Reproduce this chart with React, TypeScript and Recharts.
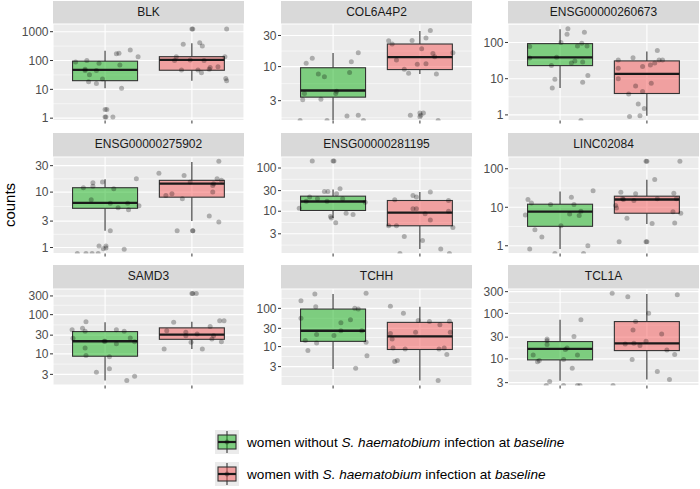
import React from 'react';
import { ComposedChart, XAxis, YAxis, CartesianGrid, Bar, Scatter } from 'recharts';

type Pt = [number, number];
// [lower whisker, q1, median, q3, upper whisker]
type Box = [number, number, number, number, number];

const FONT = '"Liberation Sans", Arial, Helvetica, sans-serif';
const GREEN = 'rgb(15,175,20)';
const RED = 'rgb(245,85,85)';

// ---- data (0 = count of zero, drawn on the panel floor) ----
const blkTicks = [1, 10, 100, 1000];
const blkDomain = [0.83, 1850];
const blkBoxes: Box[] = [[11, 20, 47, 95, 220], [20, 46, 105, 136, 400]];
const blkPoints: Pt[] = [
  [0.66, 89], [0.79, 100], [0.93, 80], [0.77, 50], [0.77, 45], [0.9, 45], [0.82, 32], [0.97, 23],
  [0.81, 18.5], [0.9, 16], [1.13, 173], [1.16, 180], [1.29, 233], [1.38, 136], [1.17, 70], [1.19, 11],
  [1.0, 2], [1.02, 2], [1.0, 1.1], [1.01, 1.1], [1.09, 1.1],
  [2.0, 1240], [2.01, 1240], [2.4, 1240], [1.9, 365], [2.09, 415], [2.12, 318], [1.82, 136], [1.98, 105],
  [2.14, 100], [2.38, 136], [1.8, 100], [1.88, 47], [2.07, 47], [2.11, 38], [2.2, 50], [2.21, 57],
  [2.3, 61], [2.39, 24], [2.4, 20],
];

const colTicks = [3, 10, 30];
const colDomain = [1.49, 45];
const colBoxes: Box[] = [[1.5, 3.4, 4.3, 9.6, 16.2], [7.7, 9.0, 14, 22.2, 35]];
const colPoints: Pt[] = [
  [0.69, 11.3], [0.76, 13.4], [1.29, 16.3], [1.21, 11.9], [0.83, 7.7], [0.9, 7.0], [1.19, 8.1], [1.04, 4.2],
  [1.03, 3.85], [0.67, 3.85], [0.65, 3.1], [0.86, 3.15], [0.62, 0], [0.93, 0], [1.16, 1.75], [1.29, 1.8],
  [1.35, 0],
  [2.12, 35.7], [2.07, 27.4], [1.91, 25.2], [1.64, 25], [1.68, 22.2], [2.02, 18.7], [2.15, 15.9],
  [2.17, 14.1], [2.38, 16.3], [1.73, 12.6], [1.97, 10.9], [2.07, 11.1], [1.82, 9.1], [1.87, 7.9],
  [2.19, 7.7], [2.0, 1.95], [2.01, 1.8], [2.0, 1.7], [2.04, 1.95], [1.89, 1.8], [2.21, 0],
];

const e260Ticks = [1, 10, 100];
const e260Domain = [0.7, 324];
const e260Boxes: Box[] = [[5.5, 23, 39, 93, 233], [0.94, 3.9, 13.6, 31, 56]];
const e260Points: Pt[] = [
  [1.09, 238], [1.08, 169], [1.28, 193], [1.01, 100], [1.25, 96], [1.2, 80], [1.31, 80], [0.65, 77],
  [0.65, 37], [0.96, 39], [1.17, 31], [1.13, 27], [1.26, 29], [0.9, 23], [1.32, 12.2], [0.94, 9.7],
  [1.26, 8.0], [0.91, 5.5], [1.24, 0],
  [2.12, 60], [1.84, 38], [1.67, 33], [2.14, 33], [2.18, 33], [2.09, 27], [2.04, 24], [1.95, 21.6],
  [1.67, 19.5], [1.67, 9.9], [2.05, 7.5], [1.87, 6.3], [1.95, 4.4], [1.79, 3.8], [1.9, 2.0],
  [1.97, 1.5], [1.92, 0.94], [1.8, 0.9],
];

const e275Ticks = [1, 3, 10, 30];
const e275Domain = [0.78, 43];
const e275Boxes: Box[] = [[2.0, 5.1, 6.4, 12, 17], [3.0, 8.1, 14.2, 16.3, 35]];
const e275Points: Pt[] = [
  [0.86, 14.8], [0.97, 15.2], [1.36, 17.5], [0.75, 12], [0.86, 12.7], [1.1, 11.5], [0.84, 7.3],
  [1.06, 6.3], [1.26, 6.3], [1.15, 5.2], [1.27, 4.8], [1.39, 5.7], [1.06, 2.0], [1.01, 1.07],
  [1.01, 0.98], [0.98, 0.95], [0.93, 1.07], [1.22, 0.93], [0.68, 0], [0.78, 0], [0.85, 0], [0.92, 0],
  [2.31, 36], [1.62, 22], [1.91, 20], [2.29, 17.5], [2.34, 16.3], [1.98, 15.2], [2.25, 14.2],
  [2.24, 13.2], [2.24, 10], [1.77, 9.3], [1.7, 8.7], [1.89, 7.6], [2.2, 3.7], [2.31, 2.9],
  [1.83, 2.0], [2.01, 2.0], [2.01, 2.0],
];

const e281Ticks = [3, 10, 30, 100];
const e281Domain = [1.05, 180];
const e281Boxes: Box[] = [[7.0, 10.4, 16.8, 22.3, 32], [1.34, 4.6, 9.3, 17.7, 27.7]];
const e281Points: Pt[] = [
  [0.76, 146], [1.0, 146], [1.01, 146], [0.9, 28.7], [0.94, 28.7], [1.08, 33], [1.04, 25.4],
  [0.73, 21.2], [0.82, 19.4], [1.11, 19.4], [0.69, 17.1], [0.93, 17.1], [1.37, 16.2], [0.61, 11.7],
  [1.15, 9.0], [1.23, 8.4], [0.97, 7.5], [0.98, 7.0], [1.03, 5.4],
  [2.12, 27.7], [1.92, 23], [1.96, 21.3], [1.71, 18.4], [2.33, 17.7], [1.92, 11.4], [1.96, 11.4],
  [2.06, 8.7], [2.33, 10], [2.12, 6.3], [1.64, 4.6], [1.73, 4.6], [2.38, 4.2], [1.82, 2.6],
  [2.03, 2.1], [2.24, 1.34], [1.77, 0], [2.34, 0],
];

const lincTicks = [1, 10, 100];
const lincDomain = [0.63, 202];
const lincBoxes: Box[] = [[0.82, 3.2, 7.7, 12, 25.7], [3.7, 7.0, 15.9, 19.4, 52]];
const lincPoints: Pt[] = [
  [1.38, 27], [1.13, 18.2], [0.63, 15.9], [0.67, 13], [0.89, 11.8], [1.16, 11.8], [0.6, 6.3],
  [1.11, 6.7], [1.22, 6.1], [1.24, 7.9], [1.01, 3.3], [0.71, 2.6], [0.79, 1.7], [0.65, 0.82],
  [1.32, 1.0], [0.94, 0], [1.27, 0],
  [1.99, 156], [2.0, 156], [2.38, 156], [2.09, 53], [1.7, 24.6], [1.87, 22.4], [2.31, 23.2],
  [1.72, 16.6], [1.73, 16], [1.85, 15], [2.12, 16.6], [2.34, 16.6], [1.64, 11.1], [1.65, 9.6],
  [2.3, 7.7], [2.39, 7.0], [1.77, 5.2], [2.06, 3.8], [2.32, 3.9], [1.68, 1.27], [1.99, 1.27], [2.0, 1.27],
];

const samdTicks = [3, 10, 30, 100, 300];
const samdDomain = [1.56, 451];
const samdBoxes: Box[] = [[2.1, 8.7, 21, 37, 64], [13.4, 23.5, 31, 46, 66]];
const samdPoints: Pt[] = [
  [0.78, 66], [0.62, 41.5], [0.74, 45], [0.77, 37.6], [1.13, 41.5], [1.22, 37.6], [0.63, 25],
  [1.29, 25.5], [1.34, 20.5], [0.99, 21], [1.0, 21], [1.13, 18], [0.77, 14.2], [0.78, 9.1],
  [1.05, 8.5], [0.9, 3.4], [1.05, 4.2], [1.25, 2.1], [1.34, 2.7],
  [2.01, 348], [2.0, 348], [2.05, 348], [1.79, 64], [2.32, 70], [2.37, 70], [2.21, 50], [1.71, 39],
  [1.93, 35.5], [2.06, 32], [1.93, 29], [2.25, 29], [2.23, 24], [2.34, 20.5], [1.99, 19.7],
  [1.68, 13.4], [2.12, 13.4],
];

const tchhTicks = [3, 10, 30, 100];
const tchhDomain = [0.96, 321];
const tchhBoxes: Box[] = [[2.6, 13.7, 26, 96, 238], [1.3, 8.4, 18.6, 43, 111]];
const tchhPoints: Pt[] = [
  [0.79, 238], [1.38, 250], [0.63, 159], [0.8, 111], [1.25, 100], [1.29, 96], [0.63, 55], [1.2, 50],
  [1.09, 42], [1.09, 26], [1.33, 26], [0.81, 20.6], [1.01, 19.4], [0.68, 14.4], [0.81, 12.5],
  [1.38, 13], [0.71, 7.9], [1.39, 5.8], [1.26, 2.7],
  [1.66, 113], [1.81, 74], [1.98, 48], [2.11, 45], [2.23, 37.5], [2.34, 46], [1.95, 23.6],
  [2.35, 23.6], [1.66, 22], [1.68, 15.9], [1.69, 9.2], [1.83, 8.7], [2.22, 8.7], [2.28, 9.2],
  [2.31, 6.2], [1.71, 4.1], [1.74, 4.3], [2.21, 1.3],
];

const tclTicks = [3, 10, 30, 100, 300];
const tclDomain = [2.6, 343];
const tclBoxes: Box[] = [[3.3, 9.5, 16.6, 24, 72], [3.5, 15.2, 22, 66, 266]];
const tclPoints: Pt[] = [
  [1.24, 72], [0.85, 27.5], [0.85, 25], [1.16, 31], [0.85, 20.6], [1.08, 17.4], [1.06, 16],
  [1.2, 12.2], [0.69, 12.2], [0.76, 9.2], [0.74, 8.7], [1.04, 9.7], [1.14, 6.2], [0.88, 3.2],
  [0.84, 0], [1.04, 0], [1.2, 0], [1.23, 0],
  [1.6, 275], [1.78, 232], [2.35, 257], [2.02, 100], [1.87, 66], [1.84, 43], [2.17, 35], [1.75, 21.3],
  [1.85, 22], [1.92, 19.6], [1.99, 24.3], [2.23, 15.7], [2.32, 12.4], [1.83, 9.7], [2.12, 5.3],
  [2.26, 3.5], [1.61, 0],
];

const panels = [
  { name: 'BLK', ticks: blkTicks, domain: blkDomain, boxes: blkBoxes, points: blkPoints },
  { name: 'COL6A4P2', ticks: colTicks, domain: colDomain, boxes: colBoxes, points: colPoints },
  { name: 'ENSG00000260673', ticks: e260Ticks, domain: e260Domain, boxes: e260Boxes, points: e260Points },
  { name: 'ENSG00000275902', ticks: e275Ticks, domain: e275Domain, boxes: e275Boxes, points: e275Points },
  { name: 'ENSG00000281195', ticks: e281Ticks, domain: e281Domain, boxes: e281Boxes, points: e281Points },
  { name: 'LINC02084', ticks: lincTicks, domain: lincDomain, boxes: lincBoxes, points: lincPoints },
  { name: 'SAMD3', ticks: samdTicks, domain: samdDomain, boxes: samdBoxes, points: samdPoints },
  { name: 'TCHH', ticks: tchhTicks, domain: tchhDomain, boxes: tchhBoxes, points: tchhPoints },
  { name: 'TCL1A', ticks: tclTicks, domain: tclDomain, boxes: tclBoxes, points: tclPoints },
];

// ---- layout ----
const COL_LEFT = [53, 281, 508];
const STRIP_TOP = [0.5, 133, 265];
const PANEL_W = 191;
const STRIP_H = 23.5;
const PANEL_H = 96.5;
const Y_W = 40;
const X_H = 6;
const PAD_T = 8; // room for a top tick label
const BOX_W = 65;

// minor breaks halfway (in log space) between majors, like ggplot
function minorBreaks(ticks: number[], domain: number[]) {
  const out: number[] = [];
  out.push(ticks[0] / Math.sqrt(ticks[1] / ticks[0]));
  for (let i = 0; i < ticks.length - 1; i++) out.push(Math.sqrt(ticks[i] * ticks[i + 1]));
  const n = ticks.length;
  out.push(ticks[n - 1] * Math.sqrt(ticks[n - 1] / ticks[n - 2]));
  return out.filter((v) => v > domain[0] && v < domain[1]);
}

const BoxShape = (props: any) => {
  const { x, y, width, height, payload } = props;
  if (!payload || height == null) return null;
  const [lo, hi] = payload.range;
  const span = Math.log(hi) - Math.log(lo);
  const py = (v: number) => y + (height * (Math.log(hi) - Math.log(v))) / span;
  const cx = x + width / 2;
  const bx = cx - BOX_W / 2;
  const top = py(payload.q3);
  const bot = py(payload.q1);
  const med = py(payload.med);
  return (
    <g>
      <line x1={cx} x2={cx} y1={y} y2={top} stroke="#333" strokeWidth={1.1} />
      <line x1={cx} x2={cx} y1={bot} y2={y + height} stroke="#333" strokeWidth={1.1} />
      <rect x={bx} y={top} width={BOX_W} height={bot - top} fill={payload.pos === 1 ? GREEN : RED}
        fillOpacity={0.5} stroke="#333" strokeWidth={1.1} />
      <line x1={bx} x2={bx + BOX_W} y1={med} y2={med} stroke="#1a1a1a" strokeWidth={2.3} />
    </g>
  );
};

const Dot = (props: any) => <circle cx={props.cx} cy={props.cy} r={2.5} fill="#000" fillOpacity={0.27} />;

function Panel({ p, i }: { p: (typeof panels)[number]; i: number }) {
  const col = i % 3;
  const row = Math.floor(i / 3);
  const left = COL_LEFT[col];
  const stripTop = STRIP_TOP[row];
  const boxData = p.boxes.map((b, k) => ({ pos: k + 1, range: [b[0], b[4]], q1: b[1], med: b[2], q3: b[3] }));
  const ptData = p.points.map(([x, v]) => ({ pos: x, v: v > 0 ? v : p.domain[0] }));
  const minors = minorBreaks(p.ticks, p.domain);
  return (
    <>
      <div style={{
        position: 'absolute', left, top: stripTop, width: PANEL_W, height: STRIP_H, background: '#d9d9d9',
        color: '#1a1a1a', fontSize: 12, lineHeight: `${STRIP_H}px`, textAlign: 'center',
      }}>{p.name}</div>
      <div style={{ position: 'absolute', left: left - Y_W, top: stripTop + STRIP_H - PAD_T }}>
        <ComposedChart width={Y_W + PANEL_W} height={PANEL_H + X_H + PAD_T} data={boxData}
          margin={{ top: PAD_T, right: 0, bottom: 0, left: 0 }}>
          <CartesianGrid fill="#ebebeb" stroke="#fff" strokeWidth={0.55} vertical={false} horizontalValues={minors} />
          <CartesianGrid stroke="#fff" strokeWidth={1.1} />
          <XAxis type="number" dataKey="pos" domain={[0.4, 2.6]} ticks={[1, 2]} allowDataOverflow
            tickFormatter={() => ''} axisLine={false} tickSize={3} tickLine={{ stroke: '#333' }} height={X_H} />
          <YAxis scale="log" type="number" domain={p.domain} ticks={p.ticks} allowDataOverflow interval={0}
            axisLine={false} tickSize={3} tickMargin={1.5} tickLine={{ stroke: '#333' }} width={Y_W}
            tick={{ fontSize: 12, fill: '#4d4d4d', fontFamily: FONT }} />
          <Bar dataKey="range" barSize={BOX_W} shape={BoxShape} isAnimationActive={false} />
          <Scatter data={ptData} dataKey="v" shape={Dot} isAnimationActive={false} />
        </ComposedChart>
      </div>
    </>
  );
}

function Key({ color }: { color: string }) {
  return (
    <svg width={24} height={24} style={{ display: 'block' }}>
      <rect x={0} y={0} width={24} height={24} fill="#ebebeb" />
      <line x1={12} x2={12} y1={1} y2={23} stroke="#333" strokeWidth={1.1} />
      <rect x={3} y={5} width={18} height={14} fill={color} fillOpacity={0.5} stroke="#333" strokeWidth={1.1} />
      <line x1={3} x2={21} y1={12} y2={12} stroke="#1a1a1a" strokeWidth={2.2} />
      <circle cx={12} cy={12} r={2.5} fill="#000" fillOpacity={0.27} />
    </svg>
  );
}

export default function App() {
  return (
    <div style={{
      position: 'absolute', left: 0, top: 0, width: 700, height: 489, background: '#fff',
      fontFamily: FONT, overflow: 'hidden',
    }}>
      {panels.map((p, i) => <Panel key={p.name} p={p} i={i} />)}
      <div style={{
        position: 'absolute', left: 9, top: 204.5, transform: 'translate(-50%, -50%) rotate(-90deg)',
        fontSize: 15, color: '#000', whiteSpace: 'nowrap',
      }}>counts</div>
      <div style={{ position: 'absolute', left: 215, top: 430, fontSize: 13.6, color: '#000' }}>
        <div style={{ display: 'flex', alignItems: 'center', height: 24, marginBottom: 8 }}>
          <Key color={GREEN} />
          <span style={{ marginLeft: 8, whiteSpace: 'nowrap' }}>women without <i>S. haematobium</i> infection at <i>baseline</i></span>
        </div>
        <div style={{ display: 'flex', alignItems: 'center', height: 24 }}>
          <Key color={RED} />
          <span style={{ marginLeft: 8, whiteSpace: 'nowrap' }}>women with <i>S. haematobium</i> infection at <i>baseline</i></span>
        </div>
      </div>
    </div>
  );
}
